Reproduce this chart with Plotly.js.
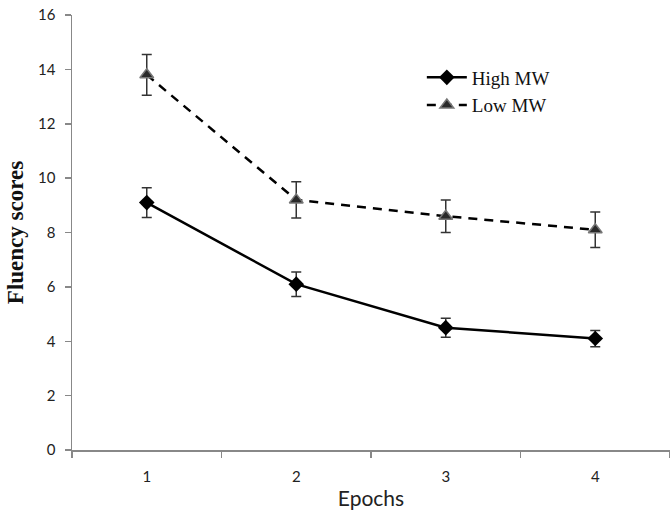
<!DOCTYPE html>
<html>
<head>
<meta charset="utf-8">
<script src="https://cdn.plot.ly/plotly-3.0.1.min.js"></script>
<style>html,body{margin:0;padding:0;background:#fff;}#chart{width:670px;height:515px;}</style>
</head>
<body>
<div id="chart"></div>
<script>
const epochs = [1, 2, 3, 4];
const tickLabels = ["1", "2", "3", "4"];
const highMW = [9.1, 6.1, 4.5, 4.1];
const highErr = [0.55, 0.45, 0.35, 0.3];
const lowMW = [13.8, 9.2, 8.6, 8.1];
const lowErr = [0.75, 0.67, 0.6, 0.65];
const yTicks = [0, 2, 4, 6, 8, 10, 12, 14, 16];

const traces = [
  {
    x: epochs, y: highMW, name: "High MW", type: "scatter", mode: "lines+markers", legendgroup: "a",
    line: {color: "#000", width: 2.5},
    marker: {symbol: "diamond", size: 12, color: "#000"},
    error_y: {type: "data", array: highErr, visible: true, color: "#333", thickness: 1.5, width: 5}
  },
  {
    x: epochs, y: lowMW, name: "Low MW", type: "scatter", mode: "lines+markers", legendgroup: "b",
    line: {color: "#000", width: 2.5, dash: "9px,7px"},
    marker: {symbol: "triangle-up", size: 12, color: "#2a2a2a", line: {color: "#777", width: 1.5}},
    error_y: {type: "data", array: lowErr, visible: true, color: "#333", thickness: 1.5, width: 5}
  }
];

const layout = {
  width: 670, height: 515,
  margin: {l: 72, r: 0, t: 15, b: 65},
  paper_bgcolor: "#fff", plot_bgcolor: "#fff",
  showlegend: true,
  legend: {x: 0.585, y: 0.9, xanchor: "left", yanchor: "top", bgcolor: "rgba(0,0,0,0)",
    font: {family: "Liberation Serif, Times New Roman, serif", size: 19, color: "#111"},
    tracegroupgap: 0, itemwidth: 40},
  xaxis: {
    range: [0.5, 4.5], tickvals: epochs, ticktext: tickLabels, ticks: "",
    showgrid: false, zeroline: false, showline: true, linecolor: "#888", linewidth: 1.5,
    tickfont: {family: "Lato, Noto Sans, sans-serif", size: 15, color: "#222"},
    ticklabelstandoff: 12,
    minor: {tickvals: [0.5, 1.5, 2.5, 3.5, 4.5], ticks: "outside", ticklen: 6, tickcolor: "#888", tickwidth: 1.5, showgrid: false},
    title: {text: "Epochs", font: {family: "Lato, Noto Sans, sans-serif", size: 21, color: "#222"}, standoff: 8}
  },
  yaxis: {
    range: [0, 16], tickvals: yTicks, ticks: "outside", ticklen: 6, tickcolor: "#888", tickwidth: 1.5,
    showgrid: false, zeroline: false, showline: true, linecolor: "#888", linewidth: 1.5,
    tickfont: {family: "Lato, Noto Sans, sans-serif", size: 15, color: "#222"},
    ticklabelstandoff: 6,
    title: {text: "<b>Fluency scores</b>", font: {family: "Liberation Serif, Times New Roman, serif", size: 23, color: "#111"}, standoff: 8}
  }
};

Plotly.newPlot("chart", traces, layout, {displayModeBar: false, staticPlot: true});
</script>
</body>
</html>
